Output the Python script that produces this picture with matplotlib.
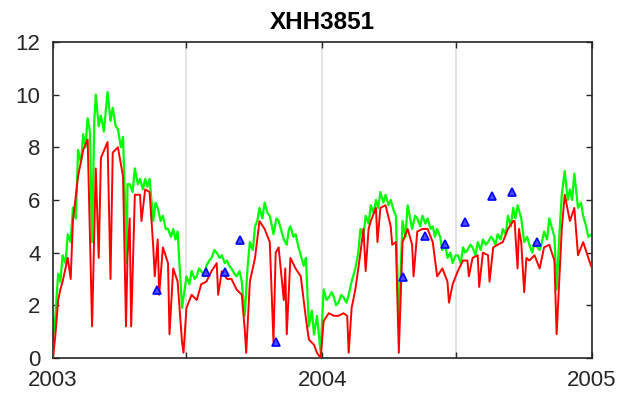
import numpy as np
import pandas as pd
import matplotlib
matplotlib.use("Agg")
import matplotlib.pyplot as plt

plt.rcParams['font.family'] = ['Liberation Sans', 'DejaVu Sans']

# days since 2003-01-01
green_days = [0, 3, 7, 10, 13, 17, 20, 24, 27, 31, 34, 38, 41, 44, 47, 50, 53, 56, 58, 62,
              65, 69, 74, 78, 81, 85, 88, 92, 95, 100, 101, 104, 108, 111, 115, 118, 122,
              125, 128, 131, 136, 139, 142, 146, 149, 153, 156, 160, 163, 166, 169, 175,
              181, 185, 188, 192, 195, 198, 201, 205, 208, 212, 215, 219, 222, 226, 229,
              233, 236, 239, 242, 246, 249, 253, 256, 260, 264, 267, 271, 274, 277, 280,
              284, 287, 291, 294, 299, 303, 306, 310, 313, 317, 320, 322, 326, 329, 333,
              336, 340, 343, 347, 351, 354, 358, 363, 367, 371, 374, 378, 381, 384, 387,
              391, 394, 398, 401, 405, 410, 414, 417, 421, 424, 428, 431, 435, 438, 441,
              444, 448, 451, 455, 458, 462, 465, 469, 474, 478, 481, 485, 487, 491, 494,
              498, 501, 505, 508, 512, 515, 518, 521, 525, 528, 532, 535, 539, 542, 546,
              549, 553, 556, 559, 562, 566, 569, 573, 576, 580, 583, 587, 590, 594, 597,
              600, 603, 607, 610, 614, 617, 621, 624, 627, 630, 635, 639, 643, 646, 650,
              653, 657, 660, 663, 666, 670, 673, 677, 680, 683, 687, 690, 694, 698, 701,
              704, 707, 712, 716, 719, 723, 726, 731]
green_vals = [0.7, 1.5, 3.2, 2.9, 3.9, 3.6, 4.7, 4.4, 5.7, 5.3, 7.9, 7.4, 8.5, 8.0, 9.1,
              8.6, 4.4, 9.0, 10.0, 8.8, 9.2, 8.6, 10.1, 9.0, 9.5, 8.8, 8.7, 8.0, 8.4, 3.6,
              6.6, 6.6, 6.3, 7.2, 6.6, 6.8, 6.4, 6.8, 6.5, 6.8, 5.2, 5.9, 5.7, 5.2, 5.4,
              4.9, 4.9, 4.6, 4.9, 4.5, 4.8, 1.9, 3.1, 2.8, 3.3, 3.0, 3.1, 3.4, 3.3, 3.1,
              3.5, 3.7, 3.8, 4.1, 4.0, 3.8, 3.9, 3.6, 3.7, 3.5, 3.4, 3.2, 3.1, 3.3, 2.9,
              1.6, 3.5, 4.4, 4.1, 5.0, 5.2, 5.7, 5.3, 5.9, 5.5, 5.4, 4.7, 5.3, 5.2, 4.8,
              4.5, 4.3, 4.9, 5.0, 4.6, 4.7, 4.2, 3.9, 3.5, 3.8, 1.2, 1.8, 0.9, 1.6, 0.2,
              2.6, 2.2, 2.3, 2.5, 2.3, 2.0, 2.1, 2.4, 2.3, 2.1, 2.4, 2.9, 3.4, 4.0, 4.9,
              4.6, 5.4, 5.1, 5.8, 5.5, 6.0, 5.7, 6.3, 5.9, 6.2, 5.8, 6.0, 5.6, 5.4, 1.2,
              5.2, 4.6, 5.8, 5.2, 4.9, 5.4, 5.3, 5.0, 5.4, 5.1, 5.3, 4.9, 5.0, 4.6, 4.9,
              4.6, 4.1, 4.3, 3.8, 4.0, 3.6, 3.9, 3.9, 3.6, 4.2, 4.0, 4.1, 4.3, 4.2, 3.9,
              4.4, 4.1, 4.5, 4.3, 4.4, 4.6, 4.5, 4.3, 4.7, 4.5, 4.9, 4.7, 5.4, 5.0, 5.7,
              5.3, 5.8, 5.3, 4.4, 4.6, 4.3, 4.0, 4.4, 4.2, 4.1, 4.4, 4.8, 4.5, 5.3, 4.9,
              4.6, 2.6, 4.8, 6.2, 7.1, 6.0, 6.4, 6.0, 7.0, 5.7, 5.9, 5.4, 5.0, 4.6, 4.7]

red_days = [0, 3, 7, 10, 13, 20, 24, 27, 34, 41, 47, 53, 58, 62, 65, 74, 78, 81, 88, 95,
            99, 101, 104, 106, 111, 118, 120, 125, 131, 136, 138, 142, 144, 149, 156, 158,
            163, 169, 175, 177, 181, 188, 195, 201, 208, 215, 222, 224, 229, 236, 242,
            249, 256, 260, 262, 267, 274, 280, 287, 294, 299, 302, 306, 313, 315, 317,
            322, 329, 336, 343, 347, 354, 358, 363, 367, 374, 381, 387, 394, 399, 401,
            405, 410, 417, 421, 424, 428, 431, 438, 440, 444, 451, 458, 460, 465, 469,
            474, 481, 487, 489, 494, 501, 508, 515, 521, 528, 535, 537, 542, 549, 556,
            562, 564, 569, 576, 578, 583, 590, 592, 597, 603, 610, 617, 624, 626, 630,
            632, 635, 639, 642, 646, 653, 660, 666, 673, 680, 683, 690, 694, 701, 707,
            712, 719, 726, 731]
red_vals = [0.0, 0.8, 2.2, 2.6, 2.9, 3.8, 3.0, 5.2, 6.9, 7.9, 8.3, 1.2, 7.2, 3.8, 7.6,
            8.2, 3.0, 7.8, 8.0, 6.9, 1.2, 3.8, 5.3, 1.2, 6.2, 6.2, 5.2, 6.4, 6.3, 4.2,
            3.1, 4.5, 2.4, 4.2, 3.6, 0.9, 3.4, 2.9, 0.6, 0.2, 1.9, 2.4, 2.2, 2.8, 2.9,
            3.3, 3.6, 2.4, 3.3, 3.0, 3.0, 2.6, 2.4, 1.1, 0.2, 2.9, 3.8, 5.2, 4.9, 4.4,
            0.6, 4.0, 4.2, 2.2, 3.4, 0.9, 3.8, 3.4, 3.1, 1.5, 0.7, 0.5, 0.2, 0.0, 1.4,
            1.7, 1.6, 1.6, 1.7, 1.6, 0.2, 1.9, 2.6, 4.0, 4.9, 3.3, 4.9, 5.2, 5.7, 4.4,
            5.7, 5.8, 5.0, 4.3, 4.4, 0.2, 4.4, 4.9, 4.3, 3.1, 4.8, 4.9, 4.9, 4.4, 3.1,
            3.4, 2.9, 2.1, 2.8, 3.3, 3.7, 3.7, 3.1, 3.8, 3.9, 2.7, 4.0, 3.9, 2.9, 4.2,
            4.3, 4.4, 4.9, 5.2, 5.2, 3.4, 4.9, 4.4, 2.5, 3.8, 3.7, 3.9, 3.4, 4.2, 4.3,
            3.7, 0.9, 4.9, 6.2, 5.2, 5.7, 3.9, 4.4, 3.8, 3.4]

obs_days = [141, 208, 233, 253, 302, 474, 504, 532, 559, 596, 622, 657]
obs_vals = [2.58, 3.27, 3.28, 4.48, 0.61, 3.08, 4.63, 4.33, 5.17, 6.15, 6.30, 4.41]

start = pd.Timestamp('2003-01-01')
to_dates = lambda d: start + pd.to_timedelta(np.array(d), unit='D')

fig = plt.figure(figsize=(6.22, 3.99), dpi=100)
ax = fig.add_axes([0.0852, 0.1028, 0.8666, 0.7920])

dark = (0.15, 0.15, 0.15)
ax.plot(to_dates(green_days), green_vals, color=(0, 1, 0), lw=1.6, zorder=2)
ax.plot(to_dates(red_days), red_vals, color=(1, 0, 0), lw=1.4, zorder=3)
ax.plot(to_dates(obs_days), obs_vals, linestyle='none', marker='^', markersize=6,
        markerfacecolor=(0.3, 0.3, 1), markeredgecolor=(0, 0, 1), markeredgewidth=1.2,
        zorder=4)

xt = pd.to_datetime(['2003-01-01', '2003-07-01', '2004-01-01', '2004-07-01', '2005-01-01'])
ax.set_xticks(xt)
ax.set_xticklabels(['2003', '', '2004', '', '2005'])
ax.set_xlim(xt[0], xt[-1])
ax.set_ylim(0, 12)
ax.set_yticks(range(0, 13, 2))
ax.xaxis.grid(True, color=(0.87, 0.87, 0.87), lw=1.2)
ax.set_axisbelow(True)

ax.tick_params(direction='in', length=4, width=1, colors=dark, labelsize=16,
               top=True, right=True, pad=9)
for s in ax.spines.values():
    s.set_color(dark)
    s.set_linewidth(1.2)

ax.set_title('XHH3851', fontsize=17.5, fontweight='bold', pad=9)

fig.savefig('out.png', dpi=100)
